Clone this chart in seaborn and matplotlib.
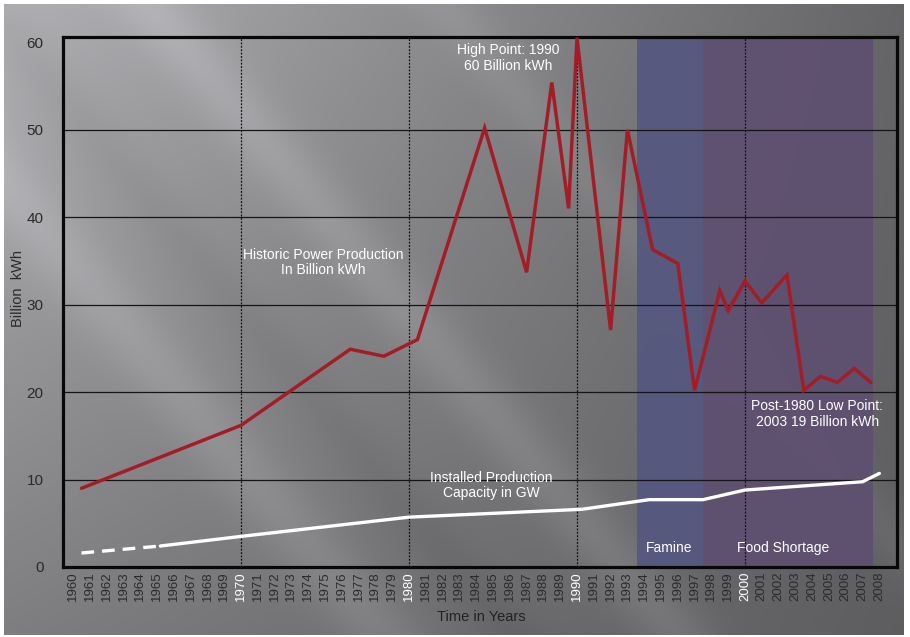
import numpy as np
import pandas as pd
import matplotlib
matplotlib.use("Agg")
import matplotlib.pyplot as plt
import seaborn as sns

# ---------------- data ----------------
prod_years = [1960.5, 1970, 1976.5, 1978.5, 1980.5, 1984.5, 1987, 1988.5, 1989.5, 1990,
              1992, 1993, 1994.5, 1996, 1997, 1998.5, 1999, 2000, 2001, 2002.5,
              2003.5, 2004.5, 2005.5, 2006.5, 2007.5]
prod_values = [9.0, 16.2, 24.9, 24.1, 26.0, 50.2, 33.7, 55.4, 41.0, 60.5,
               27.1, 50.0, 36.3, 34.7, 20.2, 31.6, 29.3, 32.7, 30.2, 33.4,
               20.2, 21.8, 21.1, 22.7, 21.1]

cap_est_years = [1960.5, 1965.2]
cap_est_values = [1.6, 2.4]
cap_years = [1965.2, 1970, 1980, 1990.3, 1994.3, 1997.5, 2000, 2007, 2008]
cap_values = [2.4, 3.5, 5.7, 6.6, 7.7, 7.7, 8.8, 9.75, 10.7]

tick_years = list(range(1960, 2009))
highlight_years = [1970, 1980, 1990, 2000]
y_ticks = [0, 10, 20, 30, 40, 50, 60]

period_names = ["Famine", "Food Shortage"]
period_starts = [1993.6, 1997.5]
period_ends = [1997.5, 2007.6]
period_colors = ["#55577f", "#5e4f70"]

# ---------------- style ----------------
sns.set_theme(style="white")
plt.rcParams["font.family"] = ["Liberation Sans", "DejaVu Sans"]
NARROW = ["Liberation Sans Narrow", "Liberation Sans", "DejaVu Sans"]

W, H = 910, 637
fig = plt.figure(figsize=(W / 100, H / 100), dpi=100, facecolor="white")

# background gradient (slide-like)
bx0, by0, bx1, by1 = 4, 4, 904, 635
bg = fig.add_axes([bx0 / W, 1 - by1 / H, (bx1 - bx0) / W, (by1 - by0) / H], zorder=-5)
bw, bh = bx1 - bx0, by1 - by0
xx, yy = np.meshgrid(np.linspace(0, 1, bw), np.linspace(0, 1, bh))
g = 0.70 - 0.30 * xx - 0.20 * yy + 0.17 * xx * yy
px = xx * bw + bx0
py = yy * bh + by0
s = px - 0.84 * py
for c, amp, wd in [(145, 0.06, 40), (-150, 0.06, 45), (440, 0.035, 35), (-20, -0.025, 35)]:
    g = g + amp * np.exp(-((s - c) / wd) ** 2)
g = np.clip(g, 0, 1)
img = np.dstack([g * 0.99, g * 0.99, g * 1.01])
img = np.clip(img, 0, 1)
bg.imshow(img, aspect="auto", extent=(0, 1, 0, 1), origin="upper")
bg.axis("off")

# main axes
ax_l, ax_r, ax_t, ax_b = 63, 897, 37, 567
ax = fig.add_axes([ax_l / W, 1 - ax_b / H, (ax_r - ax_l) / W, (ax_b - ax_t) / H])
ax.set_facecolor("none")

for name, a, b, col in zip(period_names, period_starts, period_ends, period_colors):
    ax.axvspan(a, b, color=col, alpha=0.92, lw=0, zorder=0)

for yv in y_ticks[1:-1]:
    ax.axhline(yv, color="#151515", lw=0.9, zorder=1)
for xv in highlight_years:
    ax.axvline(xv, color="#111111", lw=0.9, ls=(0, (1.5, 1.2)), zorder=1)

prod_df = pd.DataFrame({"year": prod_years, "value": prod_values})
cap_est_df = pd.DataFrame({"year": cap_est_years, "value": cap_est_values})
cap_df = pd.DataFrame({"year": cap_years, "value": cap_values})

sns.lineplot(data=cap_est_df, x="year", y="value", ax=ax, color="white", linewidth=2.4,
             estimator=None, linestyle=(0, (3.8, 2.4)), zorder=3)
sns.lineplot(data=cap_df, x="year", y="value", ax=ax, color="white", linewidth=2.4,
             estimator=None, zorder=3, solid_joinstyle="miter")
sns.lineplot(data=prod_df, x="year", y="value", ax=ax, color="#a31d27", linewidth=2.5,
             estimator=None, zorder=4, solid_joinstyle="miter")

ax.set_xlim(1959.4, 2009.05)
ax.set_ylim(0, 60.6)
ax.set_xticks(tick_years)
ax.set_xticklabels([str(y) for y in tick_years], rotation=90, fontsize=9.5)
ax.set_yticks(y_ticks)
ax.set_yticklabels([str(v) for v in y_ticks], fontsize=11, color="#2a2a2a")
for lbl, yr in zip(ax.get_xticklabels(), tick_years):
    lbl.set_color("white" if yr in highlight_years else "#2b2b2b")
ax.tick_params(axis="both", length=0)
ax.tick_params(axis="x", pad=3)
ax.tick_params(axis="y", pad=14)
ax.set_xlabel("")
ax.set_ylabel("")
for sp in ax.spines.values():
    sp.set_visible(True)
    sp.set_color("#080808")
    sp.set_linewidth(2.3)
ax.grid(False)
ax.legend_ = None

fig.text(18 / W, 1 - 288 / H, "Billion  kWh", rotation=90, ha="center", va="center",
         fontsize=10.5, color="#2a2a2a", family=NARROW)
fig.text(481 / W, 1 - 617 / H, "Time in Years", ha="center", va="center",
         fontsize=10.5, color="#222222", family=NARROW)

txt_kw = dict(color="white", ha="center", va="center", fontsize=10, family=NARROW,
              linespacing=1.15, zorder=6)
ax.text(1985.9, 58.2, "High Point: 1990\n60 Billion kWh", **txt_kw)
ax.text(1974.9, 34.8, "Historic Power Production\nIn Billion kWh", **txt_kw)
ax.text(1984.9, 9.3, "Installed Production\nCapacity in GW", **txt_kw)
ax.text(2004.3, 17.5, "Post-1980 Low Point:\n2003 19 Billion kWh", **txt_kw)
ax.text(1995.5, 2.2, "Famine", **txt_kw)
ax.text(2002.3, 2.2, "Food Shortage", **txt_kw)

fig.savefig("out.png", dpi=100, facecolor="white")
